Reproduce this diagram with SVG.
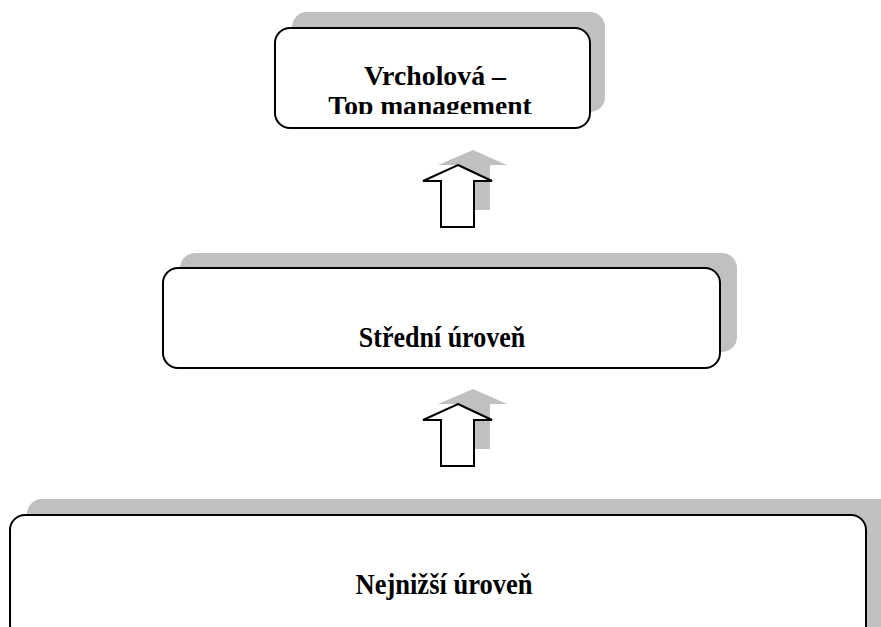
<svg xmlns="http://www.w3.org/2000/svg" width="881" height="627" viewBox="0 0 881 627">
<style>
.shadow{fill:#c0c0c0;stroke:none}
.box{fill:#fff;stroke:#000;stroke-width:2}
.lbl{font-family:"Liberation Serif","Times New Roman",serif;font-weight:bold;font-size:26px;fill:#000;text-anchor:middle}
.arrow{fill:#fff;stroke:#000;stroke-width:2;stroke-linejoin:miter}
</style>
<defs>
<clipPath id="clipTop"><rect x="276" y="29" width="313" height="85"/></clipPath>
</defs>
<g id="top">
<rect class="shadow" x="292" y="12" width="313" height="100" rx="15"/>
<rect class="box" x="275" y="28" width="315" height="100" rx="15"/>
<g clip-path="url(#clipTop)">
<text class="lbl" transform="translate(435,85) scale(1.07,1.05)" font-size="28">Vrcholová –</text>
<text class="lbl" transform="translate(430,115) scale(1.06,1.05)" font-size="28">Top management</text>
</g>
</g>
<g id="middle">
<rect class="shadow" x="180" y="253" width="557" height="99" rx="15"/>
<rect class="box" x="163" y="268" width="557" height="100" rx="15"/>
<text class="lbl" transform="translate(442,347) scale(1,1.1)">Střední úroveň</text>
</g>
<g id="bottom">
<rect class="shadow" x="27" y="499" width="880" height="140" rx="15"/>
<rect class="box" x="10" y="515" width="856" height="130" rx="15"/>
<text class="lbl" transform="translate(444,594) scale(1.02,1.1)">Nejnižší úroveň</text>
</g>
<g id="connectors">
<polygon class="shadow" points="473,150 507,165 490,165 490,210 456,210 456,165 438,165"/>
<polygon class="arrow" points="458,165 492,181 474,181 474,227 441,227 441,181 423,181"/>
<polygon class="shadow" points="473,389 507,404 490,404 490,449 456,449 456,404 438,404"/>
<polygon class="arrow" points="458,404 492,420 474,420 474,466 441,466 441,420 423,420"/>
</g>
</svg>
